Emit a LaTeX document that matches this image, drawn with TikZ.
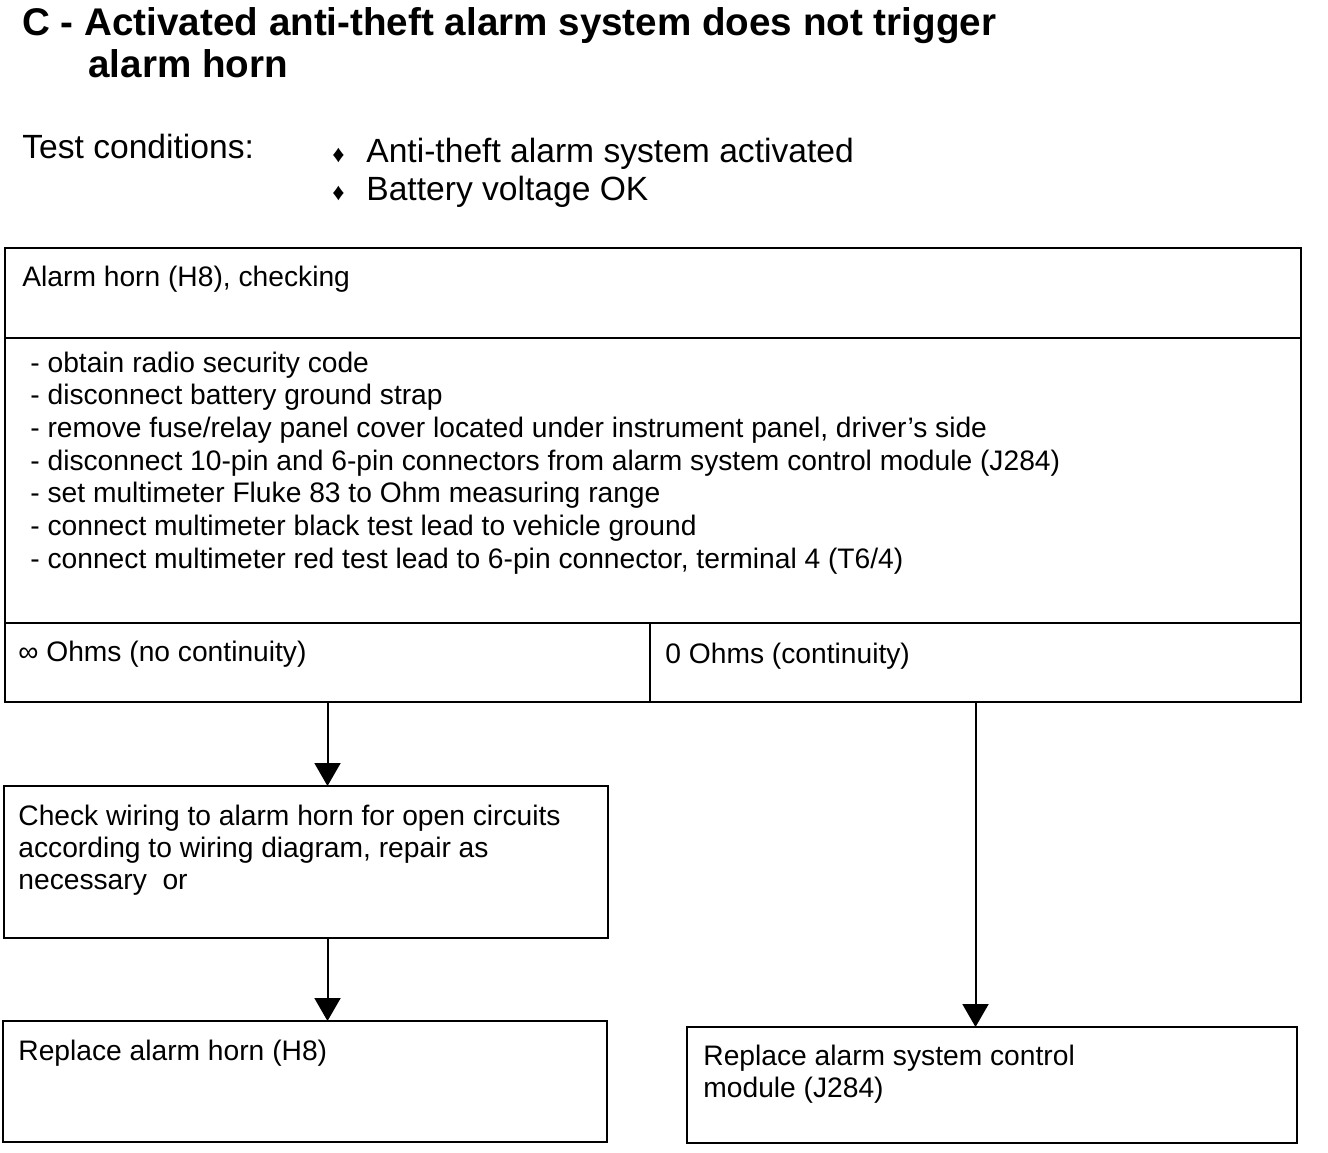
\documentclass[tikz,border=0pt]{standalone}
\usepackage{fontspec}
\setmainfont{Liberation Sans}
\usepackage{tikz}
\usetikzlibrary{arrows.meta}

\begin{document}
\begin{tikzpicture}[x=0.5pt, y=-0.5pt,
  box/.style={draw, line width=1.25pt, anchor=north west, inner sep=0pt, outer sep=0pt},
  txt/.style={anchor=base west, inner sep=0pt, align=left, font=\fontsize{14.1}{16}\selectfont},
  flow/.style={line width=1pt, -{Triangle[width=13pt, length=11.5pt]}}]
  \useasboundingbox (0,0) rectangle (1328,1152);

  % heading and test conditions (multi-line nodes sit on their last line)
  \node[txt, font=\bfseries\fontsize{19.3}{21}\selectfont] (title) at (22,77)
    {C - Activated anti-theft alarm system does not trigger\\
     \hspace*{33pt}alarm horn};
  \node[txt, font=\fontsize{16.8}{19}\selectfont] (cond) at (22,158) {Test conditions:};
  \foreach \i/\ctext in {0/{Anti-theft alarm system activated}, 1/{Battery voltage OK}}{
    \node[txt, font=\fontsize{16.8}{19}\selectfont] (cond\i) at (366,{162+\i*38}) {\ctext};
    \node[txt, font=\fontsize{12}{12}\selectfont] (bul\i) at (332,{162+\i*38}) {♦};
  }

  % check table
  \node[box, minimum width=648pt, minimum height=45pt] (head) at (5,248) {};
  \node[box, minimum width=648pt, minimum height=142.5pt] (steps) at (head.south west) {};
  \node[box, minimum width=322.5pt, minimum height=39.5pt] (nocont) at (steps.south west) {};
  \node[box, minimum width=325.5pt, minimum height=39.5pt] (cont) at (nocont.north east) {};

  \node[txt] (headtxt) at (22,286) {Alarm horn (H8), checking};
  \foreach \i/\steptext in {
    0/{obtain radio security code},
    1/{disconnect battery ground strap},
    2/{remove fuse/relay panel cover located under instrument panel, driver's side},
    3/{disconnect 10-pin and 6-pin connectors from alarm system control module (J284)},
    4/{set multimeter Fluke 83 to Ohm measuring range},
    5/{connect multimeter black test lead to vehicle ground},
    6/{connect multimeter red test lead to 6-pin connector, terminal 4 (T6/4)}
  }{
    \node[txt] (step\i) at (30,{372+\i*32.7}) {- \steptext};
  }
  \node[txt] (nocontTxt) at (18,661) {∞ Ohms (no continuity)};
  \node[txt] (contTxt) at (665,663) {0 Ohms (continuity)};

  % repair boxes
  \node[box, minimum width=302pt, minimum height=76pt] (wiring) at (4,786) {};
  \node[box, minimum width=302pt, minimum height=60.5pt] (horn) at (3,1021) {};
  \node[box, minimum width=305pt, minimum height=58pt] (module) at (687,1027) {};

  \node[txt] (wiringTxt) at (18,889)
    {Check wiring to alarm horn for open circuits\\
     according to wiring diagram, repair as\\
     necessary\ \ or};
  \node[txt] (hornTxt) at (18,1060) {Replace alarm horn (H8)};
  \node[txt] (moduleTxt) at (703,1097) {Replace alarm system control\\module (J284)};

  \draw[flow] (nocont.south) -- (nocont.south |- wiring.north);
  \draw[flow] (wiring.south -| nocont.south) -- (horn.north -| nocont.south);
  \draw[flow] (cont.south) -- (cont.south |- module.north);
\end{tikzpicture}
\end{document}
